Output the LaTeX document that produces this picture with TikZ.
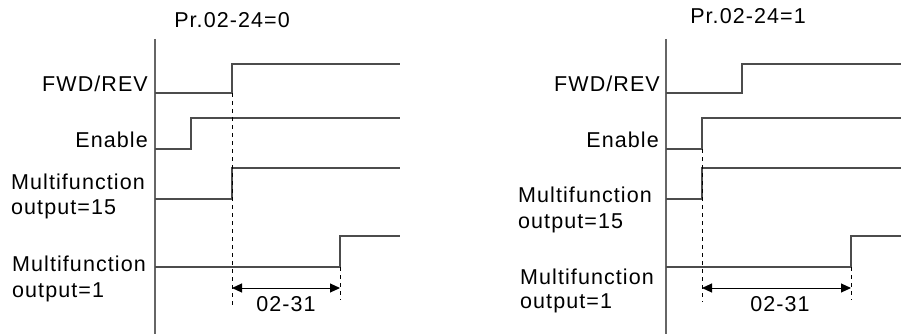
\documentclass[tikz,border=0pt]{standalone}
\usepackage{fontspec}
\setmainfont{Liberation Sans}[LetterSpace=5]
\usetikzlibrary{arrows.meta}
\begin{document}
\begin{tikzpicture}[x=1pt,y=-1pt,
  sig/.style={draw=black!70,line width=1.1pt},
  axisline/.style={draw=black!60,line width=1.1pt},
  dashln/.style={draw=black,line width=0.8pt,dash pattern=on 4pt off 4pt},
  dimarrow/.style={draw=black,line width=1pt,{Triangle[length=10pt,width=9pt]}-{Triangle[length=10pt,width=9pt]}},
  lbl/.style={inner sep=0pt,font=\fontsize{21.5}{26}\selectfont}]
\useasboundingbox (0,0) rectangle (901,334);
% ---------- left panel ----------
\node[lbl,anchor=base] (t1) at (232,28) {Pr.02-24=0};
\coordinate (ax1a) at (155,39); \coordinate (ax1b) at (155,334);
\draw[axisline] (ax1a) -- (ax1b);
\coordinate (f1) at (232,93);
\draw[sig] (155,93) -- (f1) -- (232,64) -- (400,64);
\draw[sig] (155,149) -- (191,149) -- (191,118) -- (400,118);
\draw[sig] (155,199) -- (232,199) -- (232,168) -- (400,168);
\coordinate (m1) at (340,267);
\draw[sig] (155,267) -- (m1) -- (340,236) -- (400,236);
\coordinate (d1a) at (232,306); \coordinate (d1b) at (340,300);
\draw[dashln] (f1) -- (d1a);
\draw[dashln] (m1) -- (d1b);
\coordinate (a1l) at (232,288); \coordinate (a1r) at (340,288);
\draw[dimarrow] (a1l) -- (a1r);
\node[lbl,anchor=base] (dim1) at (286,311) {02-31};
\node[lbl,anchor=base east] (fwd1) at (148,92) {FWD/REV};
\node[lbl,anchor=base east] (en1) at (148,147) {Enable};
\node[lbl,anchor=base west] (mfa1) at (11,189) {Multifunction};
\node[lbl,anchor=base west] (oa1) at (11,214) {output=15};
\node[lbl,anchor=base west] (mfb1) at (12,271) {Multifunction};
\node[lbl,anchor=base west] (ob1) at (12,297) {output=1};
% ---------- right panel ----------
\node[lbl,anchor=base] (t2) at (748,24) {Pr.02-24=1};
\coordinate (ax2a) at (666,39); \coordinate (ax2b) at (666,334);
\draw[axisline] (ax2a) -- (ax2b);
\draw[sig] (666,93) -- (742,93) -- (742,64) -- (901,64);
\coordinate (e2) at (702,149);
\draw[sig] (666,149) -- (e2) -- (702,118) -- (901,118);
\draw[sig] (666,199) -- (702,199) -- (702,168) -- (901,168);
\coordinate (m2) at (851,267);
\draw[sig] (666,267) -- (m2) -- (851,236) -- (901,236);
\coordinate (d2a) at (702,302); \coordinate (d2b) at (851,300);
\draw[dashln] (e2) -- (d2a);
\draw[dashln] (m2) -- (d2b);
\coordinate (a2l) at (702,288); \coordinate (a2r) at (851,288);
\draw[dimarrow] (a2l) -- (a2r);
\node[lbl,anchor=base] (dim2) at (780,311) {02-31};
\node[lbl,anchor=base east] (fwd2) at (660,92) {FWD/REV};
\node[lbl,anchor=base east] (en2) at (659,147) {Enable};
\node[lbl,anchor=base west] (mfa2) at (518,202) {Multifunction};
\node[lbl,anchor=base west] (oa2) at (518,228) {output=15};
\node[lbl,anchor=base west] (mfb2) at (520,284) {Multifunction};
\node[lbl,anchor=base west] (ob2) at (520,308) {output=1};
\end{tikzpicture}
\end{document}
